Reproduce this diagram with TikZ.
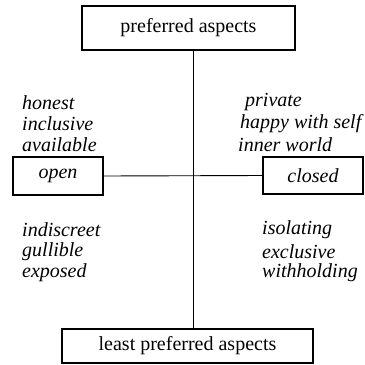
\documentclass[tikz,border=0pt]{standalone}
\usepackage{fontspec}
\setmainfont{Liberation Serif}
\begin{document}
\begin{tikzpicture}[x=1pt,y=-1pt,
  box/.style={draw,line width=1.1pt,inner sep=0pt,font=\fontsize{20}{22}\selectfont},
  lbl/.style={anchor=west,inner sep=0pt,font=\fontsize{20}{22}\selectfont\itshape},
  conn/.style={line width=0.9pt}]
\useasboundingbox (0,0) rectangle (365,365);
\node[box,minimum width=213pt,minimum height=44pt] (top) at (188.5,28) {preferred aspects};
\node[box,minimum width=251pt,minimum height=34pt] (bot) at (187.5,346) {least preferred aspects};
\node[box,minimum width=90pt,minimum height=38pt,font=\fontsize{20}{22}\selectfont\itshape] (open) at (58,176) {open};
\node[box,minimum width=100pt,minimum height=37pt,font=\fontsize{20}{22}\selectfont\itshape] (closed) at (313,175.5) {closed};
\coordinate (vt) at (193,50);
\coordinate (vb) at (193,329);
\draw[conn] (vt) -- (vb);
\draw[conn] (open.east) -- (closed.west);
\node[lbl] (l1) at (22,103) {honest};
\node[lbl] (l2) at (22,124) {inclusive};
\node[lbl] (l3) at (22,145) {available};
\node[lbl] (r1) at (245,102) {private};
\node[lbl] (r2) at (240,124) {happy with self};
\node[lbl] (r3) at (238,145) {inner world};
\node[lbl] (l4) at (22,230) {indiscreet};
\node[lbl] (l5) at (22,252) {gullible};
\node[lbl] (l6) at (22,273) {exposed};
\node[lbl] (r4) at (262,230) {isolating};
\node[lbl] (r5) at (262,252) {exclusive};
\node[lbl] (r6) at (262,273) {withholding};
\end{tikzpicture}
\end{document}
